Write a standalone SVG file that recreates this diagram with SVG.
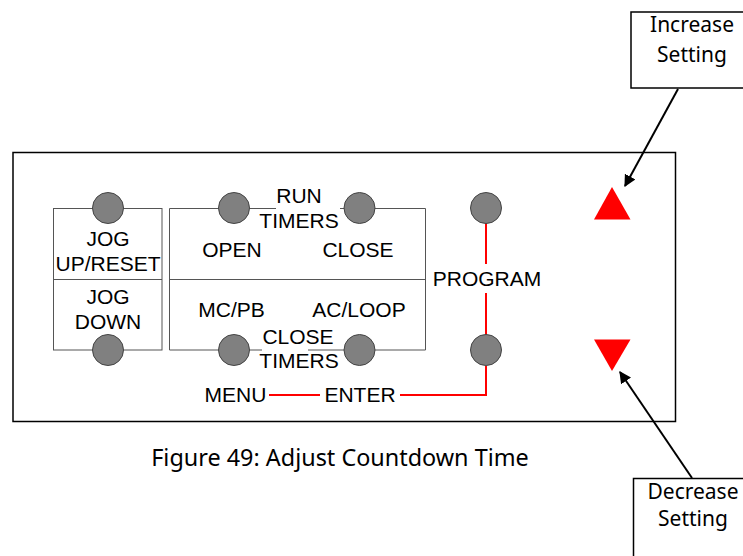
<svg xmlns="http://www.w3.org/2000/svg" width="743" height="556" viewBox="0 0 743 556">
<defs>
<style>
.lbl{font-family:"Liberation Sans",Arial,sans-serif;font-size:21px;fill:#000;text-anchor:middle}
.cap{font-family:"Noto Sans","Open Sans",sans-serif;fill:#000;text-anchor:middle}
.box{fill:none;stroke:#555;stroke-width:1}
.btn{fill:#808080;stroke:#444;stroke-width:1}
.red{fill:none;stroke:#f00;stroke-width:2}
.tri{fill:#f00}
.arr{stroke:#000;stroke-width:2;fill:none}
.call{fill:#fff;stroke:#000;stroke-width:1.5}
</style>
<marker id="ah" viewBox="0 0 10 10" refX="9" refY="5" markerWidth="6" markerHeight="6" markerUnits="strokeWidth" orient="auto"><path d="M0,0 L10,5 L0,10 z" fill="#000"/></marker>
</defs>
<rect width="743" height="556" fill="#fff"/>
<g id="panel"><rect x="13" y="152.5" width="662.5" height="269" fill="none" stroke="#000" stroke-width="1.5"/></g>
<g id="connectors">
<polyline class="red" points="486,366 486,395 400,395"/>
<line class="red" x1="320" y1="395" x2="269" y2="395"/>
<line class="red" x1="486" y1="223" x2="486" y2="264"/>
<line class="red" x1="486" y1="293" x2="486" y2="335"/>
<line class="arr" x1="678" y1="89" x2="625" y2="186" marker-end="url(#ah)"/>
<line class="arr" x1="692" y1="478" x2="620" y2="372" marker-end="url(#ah)"/>
</g>
<g id="jog">
<rect class="box" x="53.5" y="208.5" width="108.5" height="141.5"/>
<line class="box" x1="53.5" y1="279.5" x2="162" y2="279.5"/>
<circle class="btn" cx="108" cy="208" r="15.5"/>
<circle class="btn" cx="108" cy="350" r="15.5"/>
<text class="lbl" x="108" y="246">JOG</text>
<text class="lbl" x="108" y="270.5">UP/RESET</text>
<text class="lbl" x="108" y="303.5">JOG</text>
<text class="lbl" x="108" y="328.5">DOWN</text>
</g>
<g id="timers">
<polyline class="box" points="276,208.5 169.5,208.5 169.5,350 262,350"/>
<polyline class="box" points="340,208.5 425.5,208.5 425.5,350 308,350"/>
<line class="box" x1="169.5" y1="279.5" x2="425.5" y2="279.5"/>
<circle class="btn" cx="234" cy="208" r="15.5"/>
<circle class="btn" cx="359.5" cy="208" r="15.5"/>
<circle class="btn" cx="234" cy="350" r="15.5"/>
<circle class="btn" cx="359.5" cy="350" r="15.5"/>
<text class="lbl" x="299" y="203">RUN</text>
<text class="lbl" x="299" y="228">TIMERS</text>
<text class="lbl" x="232" y="257">OPEN</text>
<text class="lbl" x="358" y="257">CLOSE</text>
<text class="lbl" x="231.5" y="316.5">MC/PB</text>
<text class="lbl" x="359" y="316.5">AC/LOOP</text>
<text class="lbl" x="298" y="344">CLOSE</text>
<text class="lbl" x="299" y="368">TIMERS</text>
<text class="lbl" x="235.5" y="401.5">MENU</text>
<text class="lbl" x="360" y="401.5">ENTER</text>
</g>
<g id="program">
<circle class="btn" cx="486" cy="208" r="15.5"/>
<circle class="btn" cx="486" cy="350" r="15.5"/>
<text class="lbl" x="487" y="286">PROGRAM</text>
</g>
<g id="up"><polygon class="tri" points="612,187 594,219.5 630.5,219.5"/></g>
<g id="down"><polygon class="tri" points="594,339.5 630.5,339.5 612,371"/></g>
<g id="increase">
<rect class="call" x="631" y="12" width="120" height="76"/>
<text class="cap" x="692" y="31.5" font-size="21">Increase</text>
<text class="cap" x="692" y="61.5" font-size="21">Setting</text>
</g>
<g id="decrease">
<rect class="call" x="633.5" y="478.5" width="120" height="90"/>
<text class="cap" x="693" y="498.5" font-size="21">Decrease</text>
<text class="cap" x="693" y="526" font-size="21">Setting</text>
</g>
<g id="caption"><text class="cap" x="340" y="466" font-size="23.4">Figure 49: Adjust Countdown Time</text></g>
</svg>
